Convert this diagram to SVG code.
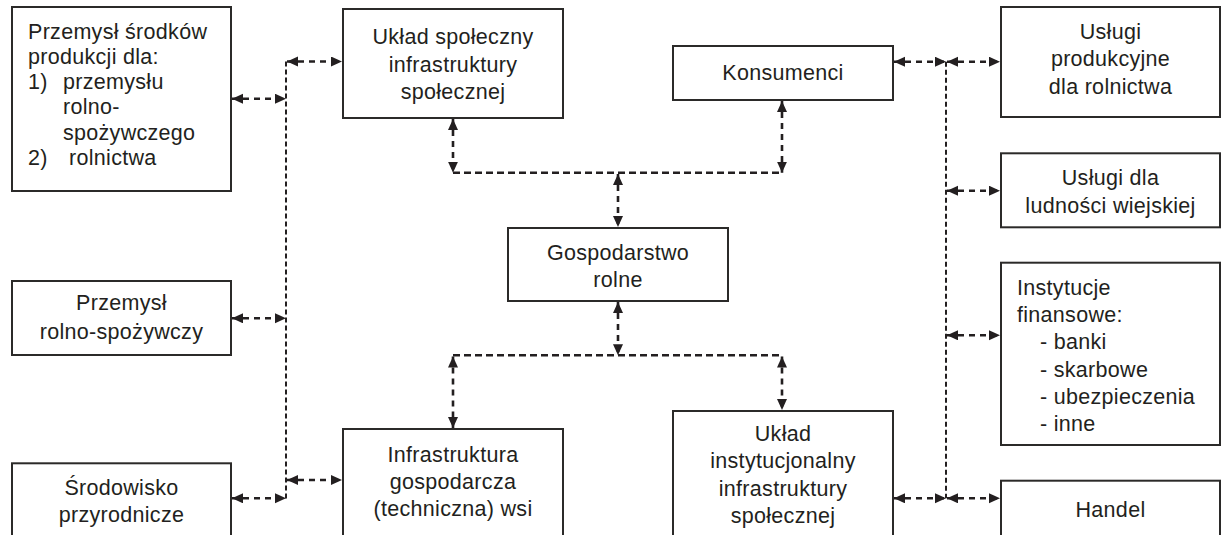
<svg xmlns="http://www.w3.org/2000/svg" width="1221" height="535" viewBox="0 0 1221 535">
<style>
.box{fill:#fff;stroke:#2b2a29;stroke-width:2}
.t{font-family:"Liberation Sans",Arial,sans-serif;font-size:21.5px;letter-spacing:0.3px;fill:#231f20}
.c{text-anchor:middle}
.a{fill:none;stroke:#231f20;stroke-width:2.6;stroke-dasharray:6 5;marker-start:url(#ah);marker-end:url(#ah)}
.h{fill:none;stroke:#231f20;stroke-width:2.4;stroke-dasharray:7 4}
.v{fill:none;stroke:#231f20;stroke-width:2;stroke-dasharray:5 3}
</style>
<defs>
<marker id="ah" markerUnits="userSpaceOnUse" markerWidth="12" markerHeight="11" refX="11" refY="5" orient="auto-start-reverse">
<path d="M0,0 L11,5 L0,10 Z" fill="#231f20"/>
</marker>
</defs>
<rect width="1221" height="535" fill="#fff"/>

<g id="connectors">
<line class="v" x1="286" y1="61.5" x2="286" y2="499"/>
<line class="a" x1="232" y1="98.7" x2="286" y2="98.7"/>
<line class="a" x1="287" y1="61.5" x2="342" y2="61.5"/>
<line class="a" x1="232" y1="318.3" x2="286" y2="318.3"/>
<line class="a" x1="287" y1="480" x2="342" y2="480"/>
<line class="a" x1="232" y1="498.3" x2="286" y2="498.3"/>

<line class="h" x1="453" y1="172.7" x2="782" y2="172.7"/>
<line class="a" x1="453" y1="119" x2="453" y2="172.7"/>
<line class="a" x1="782" y1="101" x2="782" y2="172.7"/>
<line class="a" x1="618" y1="174" x2="618" y2="227"/>

<line class="h" x1="453" y1="355.3" x2="782" y2="355.3"/>
<line class="a" x1="618" y1="302" x2="618" y2="355.3"/>
<line class="a" x1="453" y1="356.5" x2="453" y2="428"/>
<line class="a" x1="782" y1="356.5" x2="782" y2="410"/>

<line class="v" x1="946" y1="61.7" x2="946" y2="498.3"/>
<line class="a" x1="894" y1="61.7" x2="946" y2="61.7"/>
<line class="a" x1="947" y1="61.7" x2="1000" y2="61.7"/>
<line class="a" x1="947" y1="190.7" x2="1000" y2="190.7"/>
<line class="a" x1="947" y1="335.3" x2="1000" y2="335.3"/>
<line class="a" x1="894" y1="498.3" x2="946" y2="498.3"/>
<line class="a" x1="947" y1="498.3" x2="1000" y2="498.3"/>
</g>

<g id="przemysl-srodkow">
<rect class="box" x="12" y="7" width="219" height="184"/>
<text class="t" x="28" y="38.5">Przemysł środków</text>
<text class="t" x="28" y="63.8">produkcji dla:</text>
<text class="t" x="28" y="89.1">1)</text>
<text class="t" x="63" y="89.1">przemysłu</text>
<text class="t" x="63" y="114.4">rolno-</text>
<text class="t" x="63" y="139.7">spożywczego</text>
<text class="t" x="28" y="165">2)</text>
<text class="t" x="69" y="165">rolnictwa</text>
</g>

<g id="przemysl-rolno">
<rect class="box" x="12" y="281" width="219" height="74"/>
<text class="t c" x="121.5" y="310">Przemysł</text>
<text class="t c" x="121.5" y="338.5">rolno-spożywczy</text>
</g>

<g id="srodowisko">
<rect class="box" x="12" y="463.3" width="219" height="90"/>
<text class="t c" x="121.5" y="494.5">Środowisko</text>
<text class="t c" x="121.5" y="522">przyrodnicze</text>
</g>

<g id="uklad-spoleczny">
<rect class="box" x="343" y="9" width="220" height="109"/>
<text class="t c" x="453" y="44">Układ społeczny</text>
<text class="t c" x="453" y="71.5">infrastruktury</text>
<text class="t c" x="453" y="99">społecznej</text>
</g>

<g id="konsumenci">
<rect class="box" x="673" y="46" width="220" height="54"/>
<text class="t c" x="783" y="80">Konsumenci</text>
</g>

<g id="gospodarstwo">
<rect class="box" x="508" y="228" width="220" height="73"/>
<text class="t c" x="618" y="259.5">Gospodarstwo</text>
<text class="t c" x="618" y="287">rolne</text>
</g>

<g id="infrastruktura">
<rect class="box" x="343" y="429" width="220" height="120"/>
<text class="t c" x="453" y="461.5">Infrastruktura</text>
<text class="t c" x="453" y="488.5">gospodarcza</text>
<text class="t c" x="453" y="516">(techniczna) wsi</text>
</g>

<g id="uklad-instytucjonalny">
<rect class="box" x="673" y="411" width="220" height="140"/>
<text class="t c" x="783" y="441">Układ</text>
<text class="t c" x="783" y="468.3">instytucjonalny</text>
<text class="t c" x="783" y="495.5">infrastruktury</text>
<text class="t c" x="783" y="523">społecznej</text>
</g>

<g id="uslugi-produkcyjne">
<rect class="box" x="1001" y="7" width="219" height="110"/>
<text class="t c" x="1110.5" y="38.5">Usługi</text>
<text class="t c" x="1110.5" y="66">produkcyjne</text>
<text class="t c" x="1110.5" y="93.5">dla rolnictwa</text>
</g>

<g id="uslugi-ludnosci">
<rect class="box" x="1001" y="153.3" width="219" height="74"/>
<text class="t c" x="1110.5" y="185">Usługi dla</text>
<text class="t c" x="1110.5" y="213">ludności wiejskiej</text>
</g>

<g id="instytucje">
<rect class="box" x="1001" y="262.7" width="219" height="182.3"/>
<text class="t" x="1017" y="294.5">Instytucje</text>
<text class="t" x="1017" y="321.8">finansowe:</text>
<text class="t" x="1040" y="349.2">- banki</text>
<text class="t" x="1040" y="376.6">- skarbowe</text>
<text class="t" x="1040" y="404">- ubezpieczenia</text>
<text class="t" x="1040" y="431.4">- inne</text>
</g>

<g id="handel">
<rect class="box" x="1001" y="480.7" width="219" height="70"/>
<text class="t c" x="1110.5" y="516.5">Handel</text>
</g>
</svg>
